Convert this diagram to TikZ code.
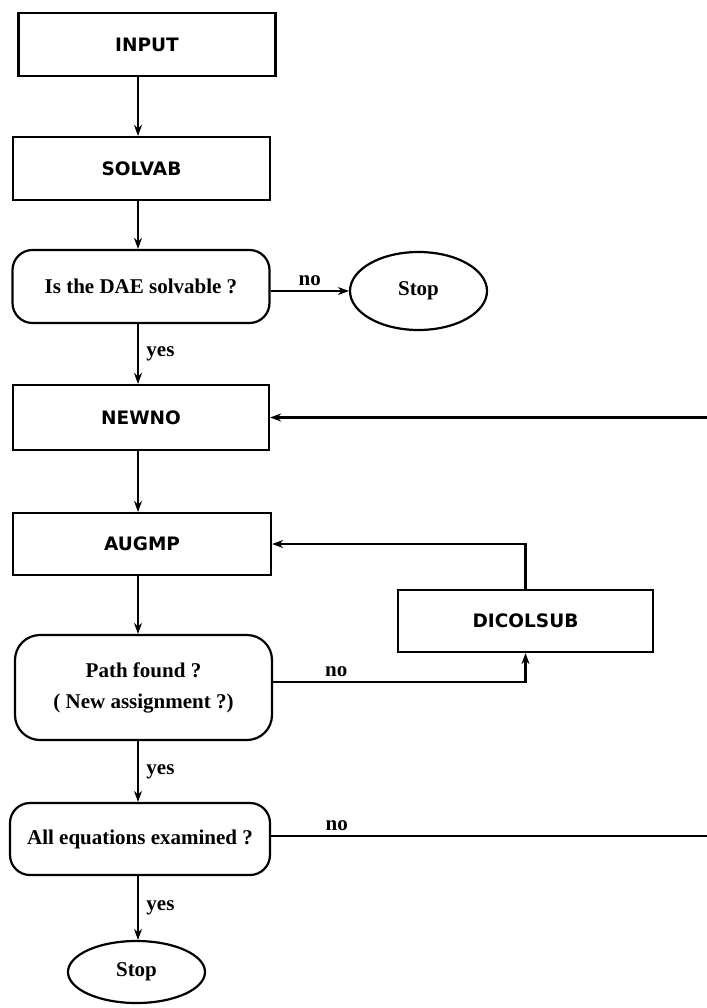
\documentclass[tikz,border=0pt]{standalone}
\usepackage{fontspec}
\setmainfont{Liberation Serif}
\newfontfamily\boxfont{DejaVu Sans}
\usetikzlibrary{shapes.geometric, arrows.meta}
\tikzstyle{process} = [
    rectangle,
    minimum width=257pt,
    minimum height=63pt,
    line width=2.2pt,
    draw=black,
    font=\boxfont\bfseries\fontsize{18.5}{20}\selectfont
]
\tikzstyle{decision} = [
    rectangle,
    rounded corners=20pt,
    minimum width=257pt,
    minimum height=73pt,
    line width=2.2pt,
    draw=black,
    align=center,
    font=\bfseries\fontsize{21}{31}\selectfont
]
\tikzstyle{startstop} = [
    ellipse,
    minimum width=137pt,
    minimum height=78pt,
    line width=2.2pt,
    draw=black,
    font=\bfseries\fontsize{21}{24}\selectfont
]
\tikzstyle{answer} = [font=\bfseries\fontsize{21}{24}\selectfont]
\tikzstyle{arrow} = [line width=2.2pt,->,>={Stealth[length=11pt,width=8pt]}]

\begin{document}
\begin{tikzpicture}[x=1pt,y=-1pt]
\useasboundingbox (0,0) rectangle (706,1008);

\node (input) [process] at (147,44.5) {INPUT};

\node (solvab) [process] at (141.5,168.5) {SOLVAB};

\node (dae) [decision] at (141,286.5) {Is the DAE solvable ?};

\node (stopa) [startstop] at (418.5,291) {Stop};

\node (newno) [process, minimum width=256pt, minimum height=65pt] at (141,417.5) {NEWNO};

\node (augmp) [process, minimum width=258pt, minimum height=62pt] at (142,544) {AUGMP};

\node (dicol) [process, minimum width=255pt, minimum height=62pt] at (525.5,621) {DICOLSUB};

\node (path) [decision, minimum height=105pt, rounded corners=25pt] at (143.5,687.5)
{Path found ?\\( New assignment ?)};

\node (alleq) [decision, minimum width=260pt, minimum height=72pt] at (140,839)
{All equations examined ?};

\node (stopb) [startstop, minimum height=62pt] at (136.5,972) {Stop};

\coordinate (spine) at (138,0);
\coordinate (edge) at (709,0);

\draw [arrow] (input.south -| spine) -- (solvab.north -| spine);
\draw [arrow] (solvab.south -| spine) -- (dae.north -| spine);
\draw [arrow] (dae.south -| spine) -- node (yesa) [answer, right=4pt] {yes} (newno.north -| spine);
\draw [arrow] (dae.east |- stopa) -- node (noa) [answer, above=1pt] {no} (stopa.west);
\draw [arrow] (newno.south -| spine) -- (augmp.north -| spine);
\draw [arrow] (augmp.south -| spine) -- (path.north -| spine);
\draw [arrow] (path.south -| spine) -- node (yesb) [answer, right=4pt] {yes} (alleq.north -| spine);
\draw [arrow] (alleq.south -| spine) -- node (yesc) [answer, right=4pt] {yes} (stopb.north -| spine);

\draw [arrow] ([yshift=5.5pt]path.east) -- node (nob) [answer, above=1pt, pos=0.25] {no} ([yshift=5.5pt]path.east -| dicol.south) -- (dicol.south);
\draw [arrow] (dicol.north) |- (augmp.east);
\draw [arrow] ([yshift=3pt]alleq.east) -- node (noc) [answer, above=1pt, pos=0.15] {no} ([yshift=3pt]alleq.east -| edge) |- (newno.east);

\end{tikzpicture}
\end{document}
